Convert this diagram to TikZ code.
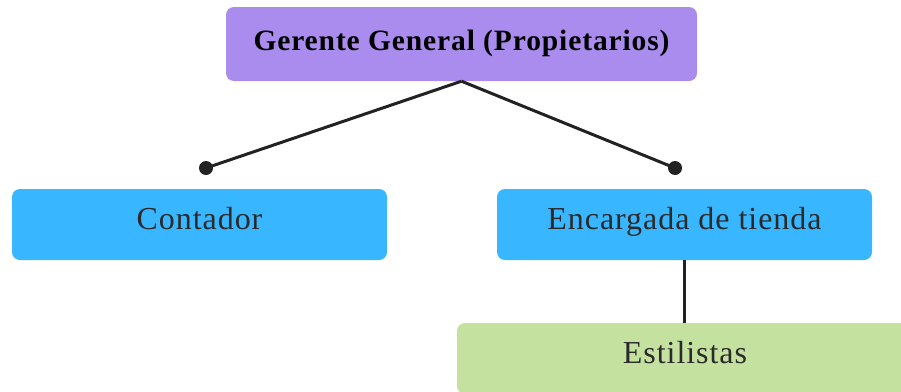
\documentclass[tikz,border=0pt]{standalone}
\usepackage{fontspec}
\setmainfont{Liberation Serif}
\newfontfamily\boxfont[LetterSpace=3]{Liberation Serif}
\usetikzlibrary{shapes}
\definecolor{bossviolet}{HTML}{AA8BEE}
\definecolor{roleblue}{HTML}{38B6FF}
\definecolor{stylegreen}{HTML}{C5E1A0}
\definecolor{linegrey}{HTML}{222222}
\definecolor{textgrey}{HTML}{2A2A2A}

\begin{document}
\begin{tikzpicture}[x=1pt, y=-1pt,
    roundnode/.style={circle, fill=linegrey, inner sep=0pt, minimum size=14pt},
    rolebox/.style={rectangle, rounded corners=8pt, inner sep=0pt, minimum width=375pt, minimum height=71pt, text height=24pt, text depth=14pt, text=textgrey, font=\boxfont\fontsize{32}{36}\selectfont},
    conn/.style={draw=linegrey, line width=3pt}]

    \useasboundingbox (0,0) rectangle (901,391);
    \clip (0,0) rectangle (901,391);

    % top of the chart
    \node[rolebox, fill=bossviolet, minimum width=471pt, minimum height=74pt, text height=22pt, text depth=10pt, text=black, font=\boxfont\bfseries\fontsize{29.5}{33}\selectfont](g1) at (461.5,44) {Gerente General (Propietarios)};

    \node[rolebox, fill=roleblue](c1) at (199.5,224.5) {Contador};
    \node[rolebox, fill=roleblue](e1) at (684.5,224.5) {Encargada de tienda};
    \node[rolebox, fill=stylegreen, minimum width=456pt](s1) at (685,358.5) {Estilistas};

    \node[roundnode](d1) at (206,168) {};
    \node[roundnode](d2) at (675,168) {};

    \draw[conn] (g1.south) -- (d1.center);
    \draw[conn] (g1.south) -- (d2.center);
    \draw[conn] (e1.south) -- (e1.south |- s1.north);

\end{tikzpicture}
\end{document}
